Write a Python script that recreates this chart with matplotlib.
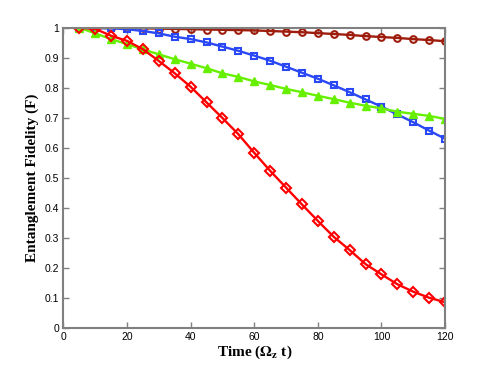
import numpy as np
import matplotlib
matplotlib.use("Agg")
import matplotlib.pyplot as plt

# time points (Omega_z t)
t = [5, 10, 15, 20, 25, 30, 35, 40, 45, 50, 55, 60,
     65, 70, 75, 80, 85, 90, 95, 100, 105, 110, 115, 120]

fid_circle = [1.000, 0.999, 0.999, 0.998, 0.998, 0.997, 0.996, 0.995, 0.994, 0.993, 0.992, 0.991,
              0.989, 0.987, 0.985, 0.982, 0.979, 0.976, 0.972, 0.969, 0.966, 0.962, 0.959, 0.955]
fid_square = [1.000, 0.999, 0.998, 0.995, 0.989, 0.981, 0.970, 0.962, 0.951, 0.937, 0.923, 0.907,
              0.890, 0.870, 0.850, 0.830, 0.808, 0.785, 0.761, 0.737, 0.711, 0.685, 0.657, 0.630]
fid_triangle = [1.000, 0.981, 0.962, 0.945, 0.928, 0.911, 0.895, 0.880, 0.865, 0.848, 0.836, 0.821,
                0.809, 0.796, 0.785, 0.773, 0.762, 0.750, 0.740, 0.731, 0.720, 0.713, 0.706, 0.696]
fid_diamond = [1.000, 0.996, 0.973, 0.956, 0.928, 0.889, 0.848, 0.803, 0.751, 0.699, 0.645, 0.583,
               0.523, 0.467, 0.411, 0.356, 0.303, 0.259, 0.212, 0.178, 0.145, 0.120, 0.100, 0.085]

xticks = [0, 20, 40, 60, 80, 100, 120]
yticks = [0, 0.1, 0.2, 0.3, 0.4, 0.5, 0.6, 0.7, 0.8, 0.9, 1]
ytick_labels = ['0', '0.1', '0.2', '0.3', '0.4', '0.5', '0.6', '0.7', '0.8', '0.9', '1']

plt.rcParams['font.family'] = ['Liberation Sans', 'DejaVu Sans']
plt.rcParams['mathtext.fontset'] = 'stix'

fig = plt.figure(figsize=(4.91, 3.69), dpi=100)
ax = fig.add_axes([0.1293, 0.1119, 0.7770, 0.8130])

brown = '#9e1c0c'
blue = '#2a48f5'
green = '#66f000'
red = '#ff0000'

ax.plot(t, fid_circle, color=brown, lw=1.7, marker='o', ms=4.8, mfc='none', mew=1.5)
ax.plot(t, fid_square, color=blue, lw=1.7, marker='s', ms=4.2, mfc='none', mew=1.5)
ax.plot(t, fid_triangle, color=green, lw=1.7, marker='^', ms=6, mfc=green, mew=1)
ax.plot(t, fid_diamond, color=red, lw=1.7, marker='D', ms=5, mfc='none', mew=1.5)

ax.set_xlim(0, 120)
ax.set_ylim(0, 1)
ax.set_xticks(xticks)
ax.set_yticks(yticks)
ax.set_yticklabels(ytick_labels)

for sp in ax.spines.values():
    sp.set_color('#808080')
    sp.set_linewidth(1.5)
ax.tick_params(direction='in', length=4, width=1, color='#808080',
               top=True, right=True, labelsize=7.5, pad=3)

ax.set_xlabel(r'Time ($\mathbf{\Omega_{z}}$ t)', fontsize=11, fontweight='bold',
              family='Liberation Serif', labelpad=1)
ax.set_ylabel('Entanglement Fidelity (F)', fontsize=11, fontweight='bold',
              family='Liberation Serif', labelpad=4)

fig.savefig('out.png', dpi=100)
